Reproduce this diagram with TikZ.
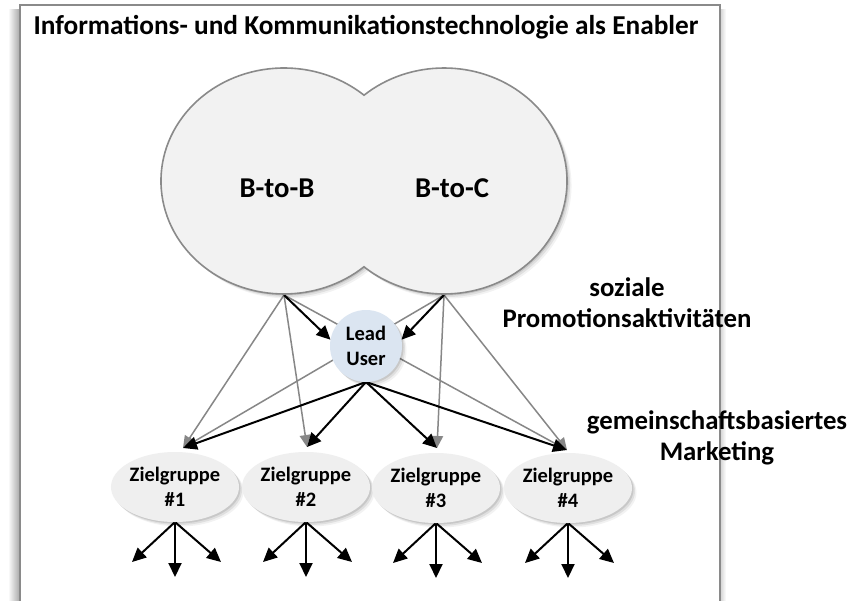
\documentclass[tikz,border=0pt]{standalone}
\usepackage{fontspec}
\setmainfont{Carlito}
\usetikzlibrary{arrows.meta,shapes.geometric,shadows}
\definecolor{framegray}{HTML}{8A8A8A}
\definecolor{bigfill}{HTML}{F2F2F2}
\definecolor{leadfill}{HTML}{DBE5F1}
\definecolor{zfill}{HTML}{EFEFEF}
\definecolor{arrgray}{HTML}{878787}
\pgfdeclarelayer{bg}
\pgfdeclarelayer{conn}
\pgfsetlayers{bg,conn,main}
\begin{document}
\begin{tikzpicture}[x=1pt,y=-1pt,
  softshadow/.style={
    drop shadow={shadow xshift=1.5pt,shadow yshift=-1.5pt,fill=black,opacity=0.10},
    drop shadow={shadow xshift=3pt,shadow yshift=-3pt,fill=black,opacity=0.08},
    drop shadow={shadow xshift=4.5pt,shadow yshift=-4.5pt,fill=black,opacity=0.05}},
  bigshape/.style={fill=bigfill,draw=framegray,line width=1.6pt,softshadow},
  bigtxt/.style={font=\fontsize{28.7}{32}\selectfont\bfseries},
  leadnode/.style={circle,inner sep=0pt,outer sep=0pt,minimum size=72pt,fill=leadfill,softshadow,
    align=center,font=\fontsize{20.5}{25}\selectfont\bfseries},
  znode/.style={ellipse,inner sep=0pt,outer sep=0pt,minimum width=120pt,minimum height=70pt,fill=zfill,softshadow,
    align=center,font=\fontsize{20.5}{25}\selectfont\bfseries},
  sidetxt/.style={align=center,font=\fontsize{26.8}{31}\selectfont\bfseries},
  titletxt/.style={font=\fontsize{27.3}{31}\selectfont\bfseries},
  grayarr/.style={draw=arrgray,line width=1.5pt,-{Triangle[length=12pt,width=11pt]},arrgray},
  blackarr/.style={draw=black,line width=2pt,-{Triangle[length=14pt,width=13pt]}},
]
\useasboundingbox (0,0) rectangle (861,600);
\begin{pgfonlayer}{bg}
  \fill[left color=white,right color=black!35] (8,9) rectangle (20,620);
  \fill[left color=black!18,right color=white] (720,9) rectangle (726,620);
  \draw[framegray,line width=2pt,fill=white] (20,5) rectangle (720,620);
\end{pgfonlayer}
\node[titletxt] (title) at (366,27) {Informations- und Kommunikationstechnologie als Enabler};
% big double shape (union of two ellipses)
\path[bigshape] (364,95.2)
  arc[start angle=-49.4,end angle=-310.6,x radius=123,y radius=113]
  arc[start angle=130.6,end angle=-130.6,x radius=123,y radius=113] -- cycle;
\node[bigtxt] (b2b) at (277,188) {B-to-B};
\node[bigtxt] (b2c) at (452,188) {B-to-C};
\coordinate (b2bs) at (284,295);
\coordinate (b2cs) at (444,295);
% lead user
\node[leadnode] (lead) at (366,346) {Lead\\User};
% target groups
\node[znode] (z1) at (175,487) {Zielgruppe\\\#1};
\node[znode] (z2) at (306,487) {Zielgruppe\\\#2};
\node[znode] (z3) at (436,488) {Zielgruppe\\\#3};
\node[znode] (z4) at (568,488) {Zielgruppe\\\#4};
\coordinate (t1) at ([xshift=8pt,yshift=4pt]z1.north);
\coordinate (t2) at ([xshift=1pt,yshift=5pt]z2.north);
\coordinate (t3) at ([xshift=1pt,yshift=5pt]z3.north);
\coordinate (t4) at ([xshift=-1pt,yshift=3pt]z4.north);
% side labels
\node[sidetxt] (promo) at (627,303) {soziale\\Promotionsaktivitäten};
\node[sidetxt] (gemein) at (717,438) {gemeinschaftsbasiertes\\Marketing};
\begin{pgfonlayer}{conn}
  \draw[grayarr] (b2bs) -- (t1);
  \draw[grayarr] (b2bs) -- (t2);
  \draw[grayarr] (b2bs) -- (t4);
  \draw[grayarr] (b2cs) -- (t1);
  \draw[grayarr] (b2cs) -- (t3);
  \draw[grayarr] (b2cs) -- (t4);
  \draw[blackarr] (b2bs) -- (lead.170);
  \draw[blackarr] (b2cs) -- (lead.10);
  \foreach \t in {t1,t2,t3,t4} {\draw[blackarr] (lead.south) -- (\t);}
  \foreach \z in {z1,z2,z3,z4} {
    \coordinate (\z l) at ([xshift=-43pt,yshift=-40pt]\z.south);
    \coordinate (\z m) at ([yshift=-55pt]\z.south);
    \coordinate (\z r) at ([xshift=46pt,yshift=-40pt]\z.south);
    \draw[blackarr] (\z.south) -- (\z l);
    \draw[blackarr] (\z.south) -- (\z m);
    \draw[blackarr] (\z.south) -- (\z r);
  }
\end{pgfonlayer}
\end{tikzpicture}
\end{document}
